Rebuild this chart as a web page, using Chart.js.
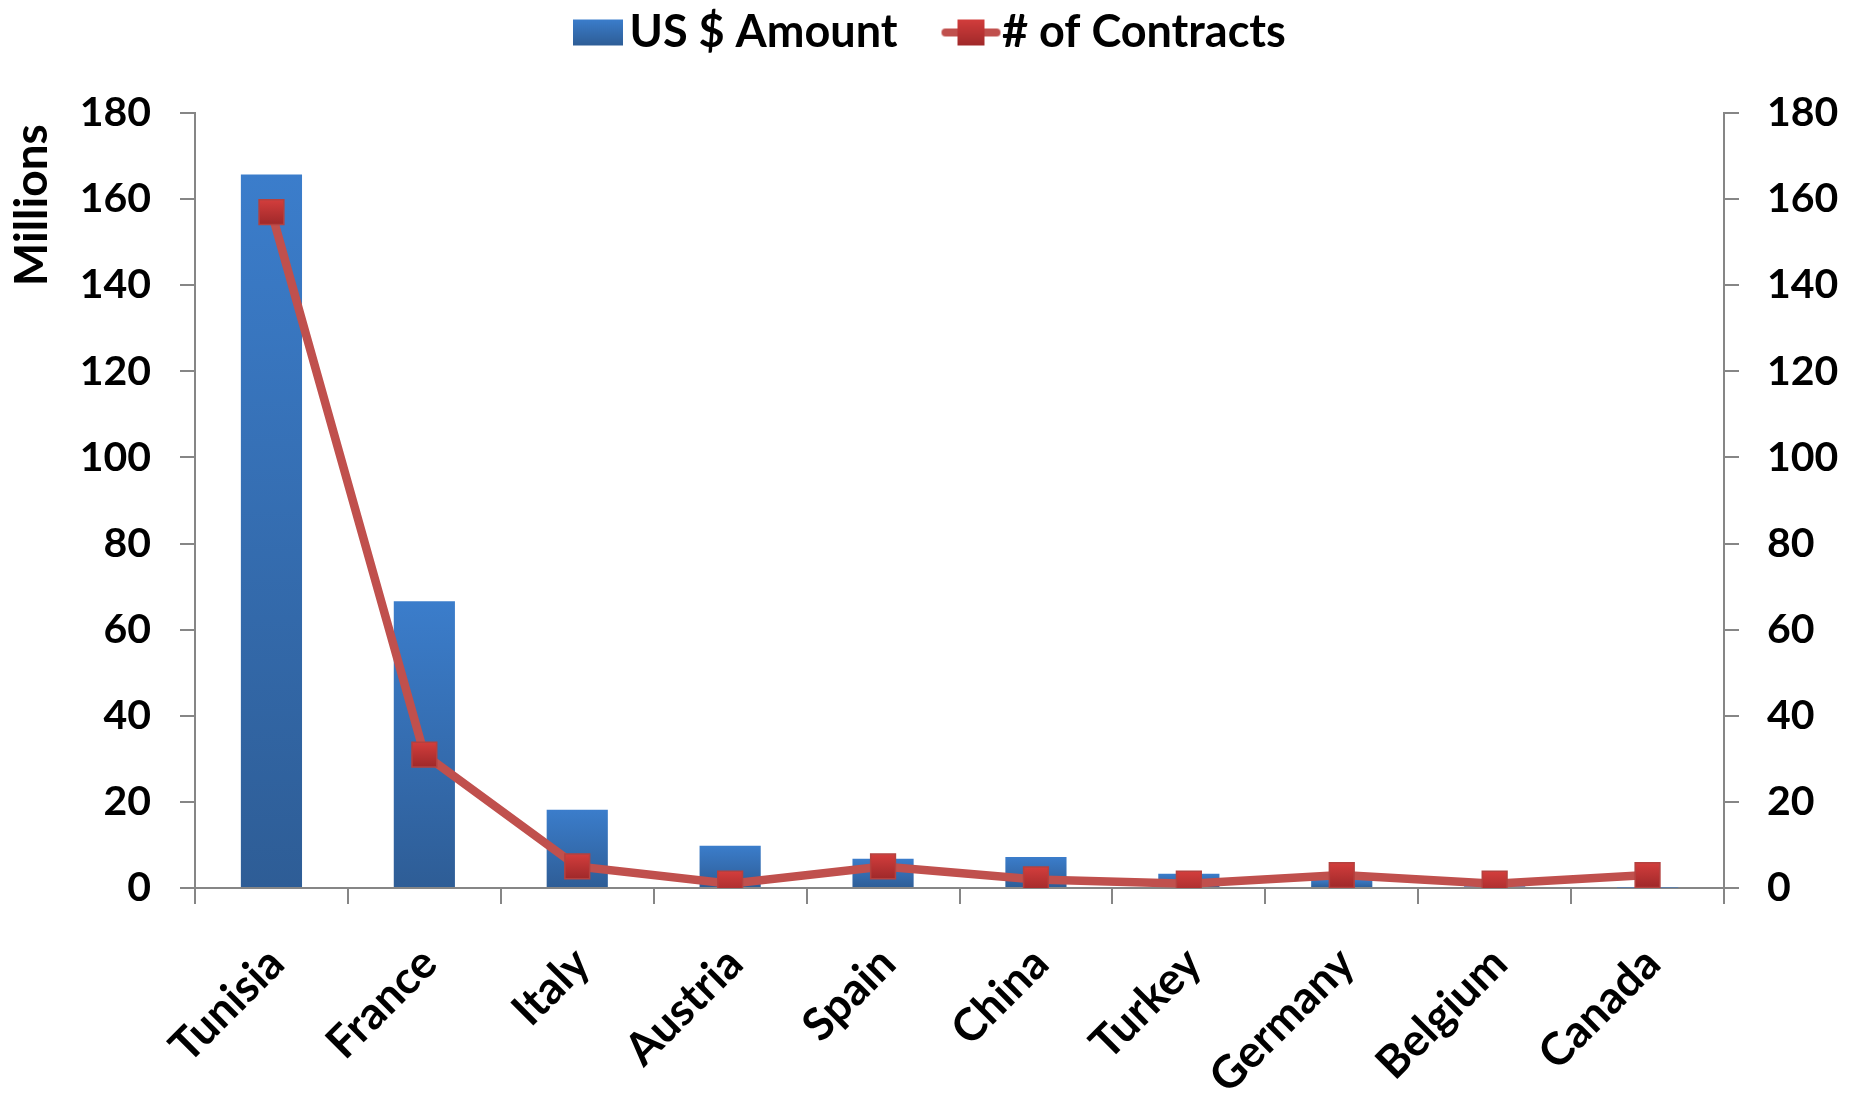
<!DOCTYPE html>
<html lang="en">
<head>
  <meta charset="UTF-8">
  <title>US $ Amount and # of Contracts by Country</title>
  <script src="https://cdn.jsdelivr.net/npm/chart.js"></script>
  <style>
    html, body { margin: 0; padding: 0; background: #fff; }
  </style>
</head>
<body>
  <canvas id="myChart" width="1854" height="1096"></canvas>

  <script>
    // data
    const countries = ['Tunisia', 'France', 'Italy', 'Austria', 'Spain', 'China', 'Turkey', 'Germany', 'Belgium', 'Canada']
    const amountMillions = [165.7, 66.6, 18.2, 9.8, 6.8, 7.2, 3.3, 2.0, 0.4, 0.1]
    const contractCount = [157, 31, 5, 1, 5, 2, 1, 3, 1, 3]

    const axisMin = 0
    const axisMax = 180
    const axisStep = 20

    const axisGray = '#868686'
    const lineRed = '#c0504d'

    Chart.defaults.font.family = 'Lato, "Open Sans", sans-serif'
    Chart.defaults.font.weight = 'bold'
    Chart.defaults.color = '#000'

    // per-bar vertical gradient, built from the bar's own scale positions
    const barFill = (c) => {
      const chart = c.chart
      if (!chart.chartArea || c.raw == null) return '#3a78c3'
      const y = chart.scales.y
      const top = y.getPixelForValue(c.raw)
      const bottom = y.getPixelForValue(0)
      if (bottom - top < 1) return '#3a78c3'
      const g = chart.ctx.createLinearGradient(0, top, 0, bottom)
      g.addColorStop(0, '#3b7dcb')
      g.addColorStop(1, '#2e5d96')
      return g
    }

    const pointFill = (c) => {
      const chart = c.chart
      if (!chart.chartArea || c.raw == null) return '#c0393a'
      const y = chart.scales.y1.getPixelForValue(c.raw)
      const g = chart.ctx.createLinearGradient(0, y - 12, 0, y + 12)
      g.addColorStop(0, '#d23d3c')
      g.addColorStop(1, '#a0292a')
      return g
    }

    // legend icons, drawn off-centre so the text gaps match the picture
    const makeIcon = (draw) => {
      const cv = document.createElement('canvas')
      cv.width = 120
      cv.height = 30
      draw(cv.getContext('2d'))
      return cv
    }

    const barIcon = makeIcon(ctx => {
      const g = ctx.createLinearGradient(0, 2, 0, 28)
      g.addColorStop(0, '#3b7dcb')
      g.addColorStop(1, '#2e5d96')
      ctx.fillStyle = g
      ctx.fillRect(62, 2, 50, 26)
    })

    const lineIcon = makeIcon(ctx => {
      ctx.strokeStyle = lineRed
      ctx.lineWidth = 8
      ctx.lineCap = 'round'
      ctx.beginPath()
      ctx.moveTo(62, 15)
      ctx.lineTo(113, 15)
      ctx.stroke()
      const g = ctx.createLinearGradient(0, 2, 0, 28)
      g.addColorStop(0, '#d23d3c')
      g.addColorStop(1, '#a0292a')
      ctx.fillStyle = g
      ctx.fillRect(74, 2, 27, 26)
    })

    // moves the legend row to where the reference has it
    const legendPlace = {
      id: 'legendPlace',
      afterLayout(chart) {
        chart.legend.left = 525
        chart.legend.top = 0
      }
    }

    const tickFont = { size: 41, weight: 'bold' }
    const labelFont = { size: 45, weight: 'bold' }

    const ctx = document.getElementById('myChart').getContext('2d')
    const myChart = new Chart(ctx, {
      type: 'bar',
      data: {
        labels: countries,
        datasets: [
          {
            type: 'bar',
            label: 'US $ Amount',
            data: amountMillions,
            yAxisID: 'y',
            backgroundColor: barFill,
            borderWidth: 0,
            barPercentage: 0.4,
            categoryPercentage: 1,
            order: 1
          },
          {
            type: 'line',
            label: '# of Contracts',
            data: contractCount,
            yAxisID: 'y1',
            borderColor: lineRed,
            borderWidth: 8.5,
            tension: 0,
            pointStyle: 'rect',
            pointRadius: 17.5,
            pointHoverRadius: 17.5,
            pointBackgroundColor: pointFill,
            pointBorderColor: '#b4413f',
            pointBorderWidth: 1.5,
            order: 0
          }
        ]
      },
      options: {
        responsive: false,
        animation: false,
        layout: { padding: 0 },
        plugins: {
          tooltip: { enabled: false },
          legend: {
            position: 'top',
            align: 'start',
            labels: {
              usePointStyle: true,
              pointStyleWidth: 72,
              padding: 10,
              color: '#000',
              font: labelFont,
              generateLabels: () => [
                { text: 'US $ Amount', pointStyle: barIcon, datasetIndex: 0, fontColor: '#000', lineWidth: 0, hidden: false },
                { text: '# of Contracts', pointStyle: lineIcon, datasetIndex: 1, fontColor: '#000', lineWidth: 0, hidden: false }
              ]
            }
          }
        },
        scales: {
          x: {
            offset: true,
            grid: {
              offset: true,
              drawOnChartArea: false,
              tickLength: 16,
              color: axisGray,
              lineWidth: 2
            },
            border: { color: axisGray, width: 2 },
            ticks: {
              font: labelFont,
              maxRotation: 45,
              minRotation: 45,
              autoSkip: false,
              padding: 33,
              labelOffset: 5
            },
            afterFit: (s) => { s.height = 208 }
          },
          y: {
            position: 'left',
            min: axisMin,
            max: axisMax,
            ticks: { stepSize: axisStep, font: tickFont, padding: 29 },
            grid: { drawOnChartArea: false, tickLength: 15, color: axisGray, lineWidth: 2 },
            border: { color: axisGray, width: 2 },
            title: {
              display: true,
              text: 'Millions ',
              align: 'end',
              font: { size: 46, weight: 'bold' },
              padding: { top: 5, bottom: 0 }
            },
            afterFit: (s) => { s.width = 195; s.paddingTop = 113 }
          },
          y1: {
            position: 'right',
            min: axisMin,
            max: axisMax,
            ticks: { stepSize: axisStep, font: tickFont, padding: 28 },
            grid: { drawOnChartArea: false, tickLength: 15, color: axisGray, lineWidth: 2 },
            border: { color: axisGray, width: 2 },
            afterFit: (s) => { s.width = 130 }
          }
        }
      },
      plugins: [legendPlace]
    })
  </script>
</body>
</html>
